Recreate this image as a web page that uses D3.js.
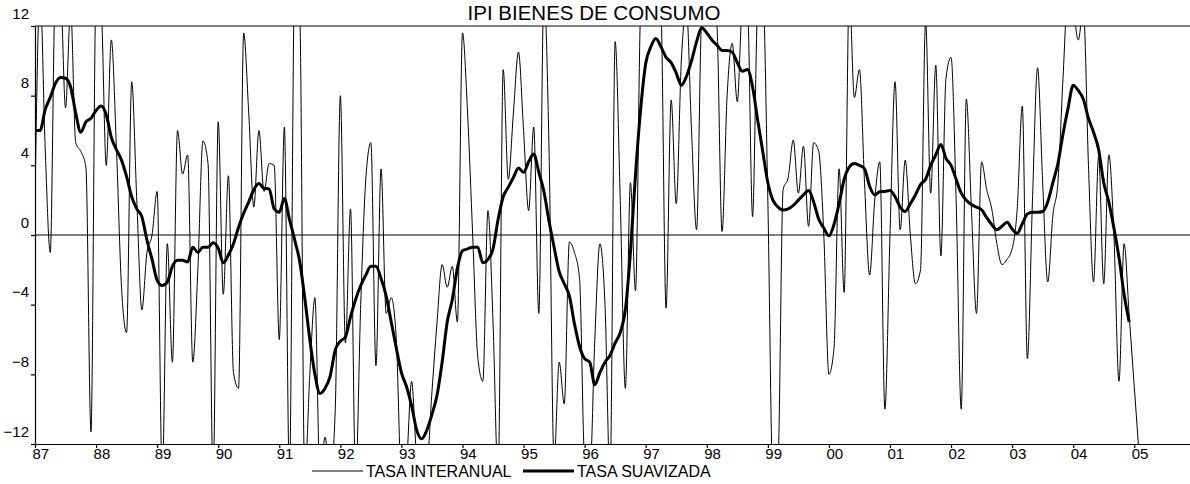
<!DOCTYPE html>
<html>
<head>
<meta charset="utf-8">
<script src="https://cdn.jsdelivr.net/npm/d3@7"></script>
<style>
  body { margin: 0; background: #fff; }
  svg text { font-family: "Liberation Sans", Arial, sans-serif; fill: #000; }
</style>
</head>
<body>
<div id="chart"></div>
<script>
// monthly series, first observation 1987M01
const startYear = 1987;

// TASA INTERANUAL (raw year-on-year rate), values beyond +-12 are clipped by the frame
const tasaInteranual = [
  2, 14, 5, -1, 14, 14, 7.3, 13, 5.3, 4.8, 3.9, -11.3,
  14, 13, 4, 11.2, 5, -3, -5.6, 8.8, 2, -4.3, -1, 0,
  2.5, -14, -0.5, -7.3, 6, 3.5, 4.6, -7.3, -2, 5.4, 4.1, -14,
  6.5, -3.4, 3.4, -7.9, -8.8, 11.6, 7, 1.6, 6, 2.5, 4.1, 4,
  -6, 6.2, -14, 14, 13, -14, -8, -3.6, -14, -11.6, -14, -10,
  8, -6.2, 1.5, -14, -4, 3.2, 5.3, -7.5, 3.8, -4.5, -3.6, -6,
  -14, -13, -8.4, -12.5, -13, -13, -9, -5, -1.7, -3, -1.8, -5,
  11.6, 7, 0, -7, -8.4, 1.4, -5, -14, 9.5, 3.2, 7, 10.5,
  6, 1.4, 6.2, -4.5, 14, 5, -13, -7.3, -9.7, -0.4, -1, -2.5,
  -13, -14, -6, -0.5, -4, -14, 11.1, 2, -8.8, 3, -3.2, 13,
  16, 16, 15, 13, -4.2, 7.75, 1.8, 10, 13, 6, 0.3, 12.5,
  14, 14, 12, 0.2, 8, 11, 7.65, 13, 13, 1.05, 13, 14,
  2, -14, -13, 2.6, 3.3, 5.45, 2.4, 5.1, 0.5, 5.3, 4.8, 0,
  -8, -6.5, 3.8, -3.3, 14, 7.9, 9.5, 3, -2.3, 2, 4.2, -10,
  0, 8.8, 0.3, 4.3, 0, -2.8, -2, 12.3, 2.4, 9.75, -1.2, 9,
  10.2, 2, -10, 7.8, 1.5, -4.5, 4.2, 2.6, 1.5, -0.5, -1.7, -1.4,
  -0.8, 1.5, 7.4, -7.1, 2, 9.6, 3, -2.7, 1.1, 3, 9, 14,
  13, 11.2, 13, 4, -2.7, 4.5, -2.8, 4.6, 0, -8.4, -0.5, -4.6,
  -8.7, -12.8
];

// TASA SUAVIZADA (smoothed rate)
const tasaSuavizada = [
  6.0, 6.0, 7.2, 7.9, 8.7, 9.05, 9.0, 8.5, 7.0, 5.9, 6.5, 6.7,
  7.15, 7.4, 6.9, 5.6, 4.9, 4.3, 3.35, 2.2, 1.5, 1.05, -0.3, -1.4,
  -2.6, -2.9, -2.7, -1.8, -1.45, -1.45, -1.55, -0.7, -1.0, -0.7, -0.7, -0.45,
  -0.75, -1.6, -1.15, -0.5, 0.45, 1.25, 1.9, 2.6, 2.95, 2.68, 2.65, 1.5,
  1.3, 2.1, 0.9, -0.25, -1.5, -3.6, -6.0, -8.0, -9.1, -8.8, -8.1, -6.6,
  -6.1, -5.85, -4.7, -3.7, -2.9, -2.3, -1.8, -1.8, -2.5, -3.5, -5.0, -6.5,
  -7.9, -8.7, -9.8, -11.2, -11.7, -11.2, -10.3, -9.2, -7.3, -5.0, -3.7, -1.9,
  -0.9, -0.8, -0.7, -0.7, -1.6, -1.4, -0.8, 0.9, 2.2, 2.75, 3.3, 3.85,
  3.6, 4.2, 4.65, 3.6, 2.5, 0.8, -0.7, -2.1, -2.8, -3.5, -5.1, -6.4,
  -7.1, -7.3, -8.6, -7.9, -7.3, -6.9, -6.2, -5.6, -4.3, -1.0, 3.5, 7.2,
  9.85, 10.8, 11.28, 10.8, 10.2, 9.9, 9.3, 8.6, 9.1, 10.0, 11.1, 11.9,
  11.6, 11.2, 10.9, 10.6, 10.6, 10.5, 9.9, 9.4, 9.5, 8.5, 6.6, 4.8,
  3.0, 2.0, 1.6, 1.43, 1.5, 1.7, 2.0, 2.3, 2.55, 1.9, 0.9, 0.4,
  -0.05, 0.6, 1.8, 3.2, 3.9, 4.1, 4.0, 3.8, 2.8, 2.3, 2.48, 2.5,
  2.55, 2.2, 1.6, 1.35, 1.8, 2.3, 2.9, 3.2, 4.0, 4.6, 5.2, 4.4,
  4.0, 3.2, 2.4, 2.0, 1.75, 1.6, 1.45, 1.0, 0.6, 0.3, 0.5, 0.73,
  0.35, 0.1, 0.65, 1.2, 1.3, 1.3, 1.35, 1.9, 3.0, 4.1, 5.8, 7.3,
  8.6, 8.3, 7.8, 6.7, 5.9, 4.9, 3.0, 1.9, 0.4, -1.3, -3.4, -5.0
];

const yearTicks = d3.range(1987, 2006);
const yearLabels = ['87', '88', '89', '90', '91', '92', '93', '94', '95', '96',
  '97', '98', '99', '00', '01', '02', '03', '04', '05'];
const valueTicks = [-12, -8, -4, 0, 4, 8, 12];

const seriesNames = ['TASA INTERANUAL', 'TASA SUAVIZADA'];
const chartTitle = 'IPI BIENES DE CONSUMO';

class LineChart {

    constructor(_config) {
        this.config = {
            parentElement: _config.parentElement,
            containerWidth: _config.containerWidth || 1190,
            containerHeight: _config.containerHeight || 484,
            margin: _config.margin || { top: 26, left: 35, bottom: 40 },
            yearWidth: 61.07
        }
        this.initVis();
    }

    initVis() {
        let vis = this;
        const m = vis.config.margin;

        vis.height = vis.config.containerHeight - m.top - m.bottom;
        // the frame runs past the right edge of the picture (axis ends at 2006)
        vis.width = vis.config.yearWidth * 19;

        vis.xScale = d3.scaleLinear()
            .domain([1987, 2006])
            .range([0, vis.width]);

        vis.yScale = d3.scaleLinear()
            .domain([-12, 12])
            .range([vis.height, 0]);

        vis.svg = d3.select(vis.config.parentElement).append('svg')
            .attr('width', vis.config.containerWidth)
            .attr('height', vis.config.containerHeight);

        vis.chart = vis.svg.append('g')
            .attr('transform', `translate(${m.left},${m.top})`);

        vis.svg.append('defs').append('clipPath')
            .attr('id', 'plot-clip')
            .append('rect')
            .attr('width', vis.width)
            .attr('height', vis.height);

        vis.svg.append('text')
            .attr('x', 594)
            .attr('y', 19.5)
            .attr('text-anchor', 'middle')
            .style('font-size', '20.5px')
            .text(chartTitle);
    }

    renderVis() {
        let vis = this;

        const xOf = (d, i) => vis.xScale(startYear + i / 12);

        // frame top and zero line
        vis.chart.append('line')
            .attr('x1', 0).attr('x2', vis.width)
            .attr('y1', 0).attr('y2', 0)
            .attr('stroke', '#000').attr('stroke-width', 1.2);

        vis.chart.append('line')
            .attr('x1', 0).attr('x2', vis.width)
            .attr('y1', vis.yScale(0)).attr('y2', vis.yScale(0))
            .attr('stroke', '#000').attr('stroke-width', 1);

        const plotArea = vis.chart.append('g')
            .attr('clip-path', 'url(#plot-clip)');

        const thinLine = d3.line()
            .x(xOf)
            .y(d => vis.yScale(d))
            .curve(d3.curveMonotoneX);

        plotArea.append('path')
            .datum(tasaInteranual)
            .attr('fill', 'none')
            .attr('stroke', '#000')
            .attr('stroke-width', 1)
            .attr('d', thinLine);

        plotArea.append('path')
            .datum(tasaSuavizada)
            .attr('fill', 'none')
            .attr('stroke', '#000')
            .attr('stroke-width', 3)
            .attr('stroke-linejoin', 'round')
            .attr('d', thinLine);

        // axes
        const xAxis = d3.axisBottom(vis.xScale)
            .tickValues(yearTicks)
            .tickFormat((d, i) => yearLabels[i])
            .tickSize(4)
            .tickSizeOuter(0);

        const yAxis = d3.axisLeft(vis.yScale)
            .tickValues(valueTicks)
            .tickFormat(d3.format('d'))
            .tickSize(4)
            .tickSizeOuter(0);

        const xAxisG = vis.chart.append('g')
            .attr('transform', `translate(0,${vis.height})`)
            .call(xAxis);
        xAxisG.selectAll('.tick text')
            .attr('text-anchor', 'start')
            .attr('x', -3)
            .attr('y', 15)
            .attr('dy', 0)
            .style('font-size', '15px');

        const yAxisG = vis.chart.append('g').call(yAxis);
        yAxisG.selectAll('.tick text')
            .attr('x', -6)
            .attr('dy', -8)
            .style('font-size', '15px');

        vis.chart.selectAll('.domain, .tick line')
            .attr('stroke', '#000')
            .attr('stroke-width', 1.2);

        // legend
        const legend = vis.svg.append('g').attr('transform', 'translate(0,471)');
        const items = [
            { name: seriesNames[0], x: 312, w: 1 },
            { name: seriesNames[1], x: 523, w: 3 }
        ];
        items.forEach(it => {
            legend.append('line')
                .attr('x1', it.x).attr('x2', it.x + 51)
                .attr('y1', 0).attr('y2', 0)
                .attr('stroke', '#000')
                .attr('stroke-width', it.w);
            legend.append('text')
                .attr('x', it.x + 54)
                .attr('y', 5.5)
                .style('font-size', '16px')
                .text(it.name);
        });
    }
}

const chart = new LineChart({ parentElement: '#chart' });
chart.renderVis();
</script>
</body>
</html>
